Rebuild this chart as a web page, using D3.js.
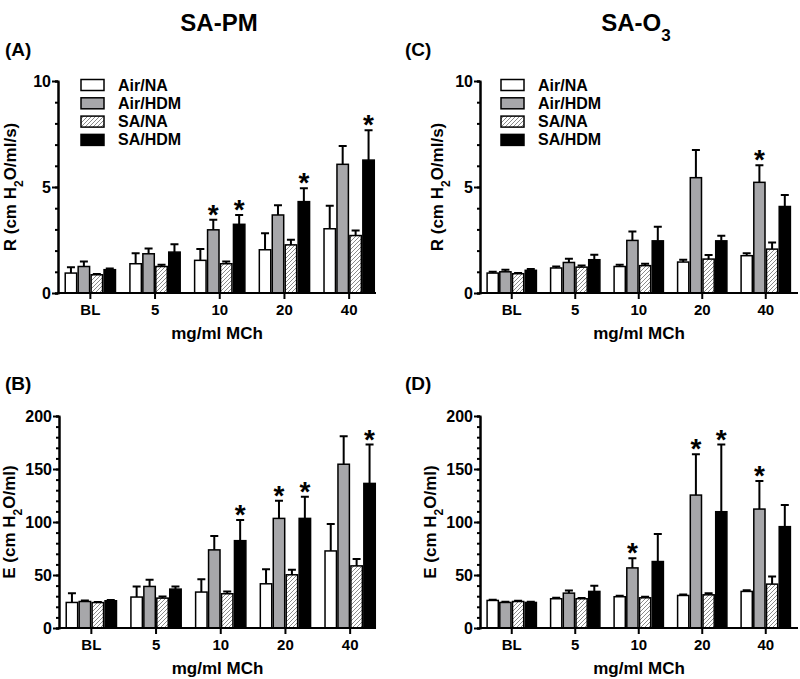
<!DOCTYPE html>
<html><head><meta charset="utf-8">
<script src="https://cdn.jsdelivr.net/npm/d3@7"></script>
<style>
html,body{margin:0;padding:0;background:#fff;}
text{font-family:"Liberation Sans",Arial,sans-serif;font-weight:bold;fill:#000;}
</style></head>
<body><svg id="c" width="800" height="679"></svg>
<script>
const categories = ["BL","5","10","20","40"];
const seriesNames = ["Air/NA","Air/HDM","SA/NA","SA/HDM"];

// Panel A: SA-PM resistance
const A_airNA   = [0.94,1.38,1.54,2.04,3.03];
const A_airHDM  = [1.25,1.85,2.98,3.68,6.07];
const A_saNA    = [0.86,1.25,1.38,2.27,2.71];
const A_saHDM   = [1.10,1.93,3.24,4.31,6.27];
const A_airNA_err  = [0.28,0.50,0.53,0.78,1.09];
const A_airHDM_err = [0.24,0.25,0.47,0.46,0.86];
const A_saNA_err   = [0.04,0.08,0.11,0.24,0.24];
const A_saHDM_err  = [0.06,0.37,0.44,0.63,1.41];
const A_stars = [[1,2],[3,2],[3,3],[3,4]]; // [series, category]

// Panel B: SA-PM elastance
const B_airNA   = [24.1,29.2,33.9,41.7,72.7];
const B_airHDM  = [25.0,39.2,73.7,103.4,154.5];
const B_saNA    = [24.0,28.2,32.3,50.2,58.6];
const B_saHDM   = [25.7,36.7,82.4,103.4,136.4];
const B_airNA_err  = [8.8,10.0,12.1,13.8,25.4];
const B_airHDM_err = [1.0,6.3,13.1,16.6,26.4];
const B_saNA_err   = [0.5,1.6,2.2,4.7,6.6];
const B_saHDM_err  = [0.6,2.5,19.5,20.4,36.6];
const B_stars = [[3,2],[1,3],[3,3],[3,4]];

// Panel C: SA-O3 resistance
const C_airNA   = [0.94,1.18,1.25,1.46,1.76];
const C_airHDM  = [1.00,1.44,2.48,5.44,5.22];
const C_saNA    = [0.91,1.22,1.29,1.60,2.07];
const C_saHDM   = [1.07,1.57,2.46,2.46,4.08];
const C_airNA_err  = [0.06,0.07,0.08,0.11,0.12];
const C_airHDM_err = [0.10,0.17,0.42,1.30,0.81];
const C_saNA_err   = [0.03,0.08,0.09,0.19,0.31];
const C_saHDM_err  = [0.06,0.23,0.67,0.24,0.54];
const C_stars = [[1,4]];

// Panel D: SA-O3 elastance
const D_airNA   = [26.0,27.6,29.5,30.7,34.5];
const D_airHDM  = [24.1,32.9,56.7,125.4,112.2];
const D_saNA    = [25.0,27.6,28.5,31.3,41.4];
const D_saHDM   = [24.1,34.5,62.7,109.7,95.6];
const D_airNA_err  = [0.6,0.9,0.9,1.0,1.2];
const D_airHDM_err = [0.7,2.5,9.1,38.6,26.4];
const D_saNA_err   = [0.7,0.6,1.0,1.6,7.2];
const D_saHDM_err  = [0.7,5.3,26.0,63.3,20.4];
const D_stars = [[1,2],[1,3],[3,3],[1,4]];

const R_ticks = [0,5,10];
const E_ticks = [0,50,100,150,200];

const svg = d3.select("#c");
const defs = svg.append("defs");
const pat = defs.append("pattern").attr("id","hatch").attr("patternUnits","userSpaceOnUse")
  .attr("width",4).attr("height",4);
pat.append("rect").attr("width",4).attr("height",4).attr("fill","#fff");
pat.append("path").attr("d","M-1,1 l2,-2 M0,4 l4,-4 M3,5 l2,-2").attr("stroke","#8a8a8a").attr("stroke-width",1);

const fills = ["#ffffff","#a7a7aa","url(#hatch)","#000000"];

function panel(cfg){
  const g = svg.append("g");
  const x = d3.scaleBand().domain(categories).range([cfg.x0, cfg.x0 + cfg.step*5]).paddingInner(0.2).paddingOuter(0.1);
  const xs = d3.scaleBand().domain(d3.range(4)).range([0, x.bandwidth()]);
  const y = d3.scaleLinear().domain([0, cfg.max]).range([cfg.yb, cfg.yt]);
  const data = [];
  cfg.vals.forEach((arr,si)=>arr.forEach((v,ci)=>data.push({si,ci,v,e:cfg.errs[si][ci]})));

  // error bars
  g.selectAll(".eb").data(data).join("path")
    .attr("d",d=>{const cx = x(categories[d.ci])+xs(d.si)+xs.bandwidth()/2;
      const yt=y(d.v+d.e), yv=y(d.v);
      return `M${cx},${yv}V${yt}M${cx-4},${yt}H${cx+4}`;})
    .attr("stroke","#000").attr("stroke-width",2).attr("fill","none");
  // bars
  g.selectAll(".bar").data(data).join("rect")
    .attr("x",d=>x(categories[d.ci])+xs(d.si)+0.75)
    .attr("width",xs.bandwidth()-1.5)
    .attr("y",d=>y(d.v))
    .attr("height",d=>y(0)-y(d.v))
    .attr("fill",d=>fills[d.si]).attr("stroke","#000").attr("stroke-width",1.5);
  // stars
  g.selectAll(".star").data(cfg.stars).join("text")
    .attr("x",d=>x(categories[d[1]])+xs(d[0])+xs.bandwidth()/2)
    .attr("y",d=>y(cfg.vals[d[0]][d[1]]+cfg.errs[d[0]][d[1]])+4)
    .attr("text-anchor","middle").style("font-size","28px").text("*");

  // y axis minor
  g.append("g").attr("transform",`translate(${cfg.x0},0)`)
    .call(d3.axisLeft(y).tickValues(d3.range(0,cfg.max+1e-9,cfg.minor)).tickSize(3).tickFormat(""))
    .call(a=>a.selectAll("line,path").attr("stroke-width",2));
  // y axis major
  const ya = g.append("g").attr("transform",`translate(${cfg.x0},0)`)
    .call(d3.axisLeft(y).tickValues(cfg.ticks).tickSize(6).tickSizeOuter(0).tickPadding(1));
  ya.selectAll("line,path").attr("stroke-width",2);
  ya.selectAll("text").style("font-size","16px");
  // x axis
  const xa = g.append("g").attr("transform",`translate(0,${cfg.yb})`)
    .call(d3.axisBottom(x).tickSize(6).tickPadding(5).tickSizeOuter(0));
  xa.select(".domain").remove();
  xa.selectAll("line").attr("stroke-width",2);
  xa.selectAll("text").style("font-size","15px");
  g.append("line").attr("x1",cfg.x0-1).attr("x2",cfg.xEnd).attr("y1",cfg.yb).attr("y2",cfg.yb)
    .attr("stroke","#000").attr("stroke-width",2);

  // x title
  g.append("text").attr("x",(cfg.x0+cfg.xEnd)/2).attr("y",cfg.yb+46).attr("text-anchor","middle")
    .style("font-size","17px").text("mg/ml MCh");
  // y title
  const yt = g.append("text").attr("transform",`translate(${cfg.ylx},${(cfg.yb+cfg.yt)/2}) rotate(-90)`)
    .attr("text-anchor","middle").style("font-size","17px");
  yt.append("tspan").text(cfg.ylab[0]);
  yt.append("tspan").attr("baseline-shift","sub").style("font-size","12px").text("2");
  yt.append("tspan").text(cfg.ylab[1]);
  // panel letter
  g.append("text").attr("x",cfg.lx).attr("y",cfg.ly).style("font-size","19px").text(cfg.letter);

  if(cfg.legend){
    const lg = g.append("g");
    seriesNames.forEach((n,i)=>{
      const yy = cfg.legend[1] + i*18.3;
      lg.append("rect").attr("x",cfg.legend[0]).attr("y",yy-5.5).attr("width",23).attr("height",11)
        .attr("fill",fills[i]).attr("stroke","#000").attr("stroke-width",1.5);
      lg.append("text").attr("x",cfg.legend[0]+37).attr("y",yy+5.5).style("font-size","16px").text(n);
    });
  }
}

panel({x0:58, step:64.7, xEnd:376, yb:293, yt:81, max:10, minor:1, ticks:R_ticks,
  vals:[A_airNA,A_airHDM,A_saNA,A_saHDM], errs:[A_airNA_err,A_airHDM_err,A_saNA_err,A_saHDM_err],
  stars:A_stars, ylx:16, ylab:["R (cm H","O/ml/s)"], letter:"(A)", lx:5, ly:56, legend:[81,85]});
panel({x0:59, step:64.7, xEnd:376, yb:628, yt:416, max:200, minor:10, ticks:E_ticks,
  vals:[B_airNA,B_airHDM,B_saNA,B_saHDM], errs:[B_airNA_err,B_airHDM_err,B_saNA_err,B_saHDM_err],
  stars:B_stars, ylx:15, ylab:["E (cm H","O/ml)"], letter:"(B)", lx:5, ly:390});
panel({x0:480, step:63.5, xEnd:798, yb:293, yt:81, max:10, minor:1, ticks:R_ticks,
  vals:[C_airNA,C_airHDM,C_saNA,C_saHDM], errs:[C_airNA_err,C_airHDM_err,C_saNA_err,C_saHDM_err],
  stars:C_stars, ylx:443, ylab:["R (cm H","O/ml/s)"], letter:"(C)", lx:405, ly:56, legend:[501,85]});
panel({x0:480, step:63.5, xEnd:798, yb:628, yt:416, max:200, minor:10, ticks:E_ticks,
  vals:[D_airNA,D_airHDM,D_saNA,D_saHDM], errs:[D_airNA_err,D_airHDM_err,D_saNA_err,D_saHDM_err],
  stars:D_stars, ylx:436, ylab:["E (cm H","O/ml)"], letter:"(D)", lx:405, ly:390});

// column titles
svg.append("text").attr("x",219).attr("y",31).attr("text-anchor","middle").style("font-size","24px").text("SA-PM");
const t2 = svg.append("text").attr("x",636).attr("y",31).attr("text-anchor","middle").style("font-size","24px");
t2.append("tspan").text("SA-O");
t2.append("tspan").attr("baseline-shift","sub").style("font-size","17px").text("3");
</script></body></html>
